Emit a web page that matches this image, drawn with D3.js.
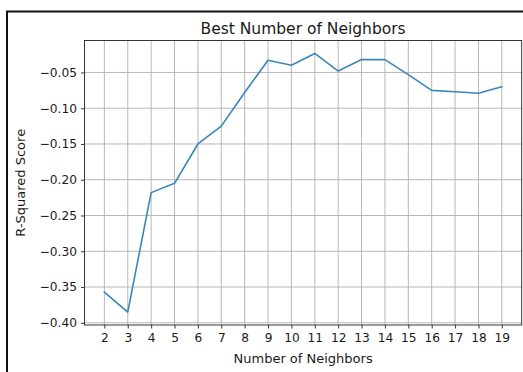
<!DOCTYPE html>
<html>
<head>
<meta charset="utf-8">
<script src="https://cdn.jsdelivr.net/npm/d3@7"></script>
<style>
  html, body { margin: 0; padding: 0; background: #fff; }
  svg { display: block; }
  text { font-family: "DejaVu Sans", sans-serif; fill: #1a1a1a; }
</style>
</head>
<body>
<svg id="chart" width="523" height="372"></svg>
<script>
const neighbors = [2, 3, 4, 5, 6, 7, 8, 9, 10, 11, 12, 13, 14, 15, 16, 17, 18, 19];
const r2Scores = [-0.357, -0.385, -0.218, -0.205, -0.150, -0.125, -0.078, -0.033, -0.040, -0.0234,
                  -0.048, -0.032, -0.032, -0.053, -0.075, -0.077, -0.079, -0.070];
const yTickValues = [-0.40, -0.35, -0.30, -0.25, -0.20, -0.15, -0.10, -0.05];
const titleText = "Best Number of Neighbors";
const xLabelText = "Number of Neighbors";
const yLabelText = "R-Squared Score";

const svg = d3.select("#chart");
const W = 523, H = 372;
const plot = { left: 84.5, right: 521.7, top: 40.5, bottom: 325 };

svg.append("rect").attr("width", W).attr("height", H).attr("fill", "#fff");

// outer frame (screenshot border)
svg.append("path")
  .attr("d", `M7,${H + 2} V11.5 H${W + 2}`)
  .attr("fill", "none").attr("stroke", "#111").attr("stroke-width", 2);

// matplotlib-like 5% margins
const xMin = d3.min(neighbors), xMax = d3.max(neighbors);
const xm = (xMax - xMin) * 0.05;
const x = d3.scaleLinear().domain([xMin - xm, xMax + xm]).range([plot.left, plot.right]);
const yMin = d3.min(r2Scores), yMax = d3.max(r2Scores);
const ym = (yMax - yMin) * 0.05;
const y = d3.scaleLinear().domain([yMin - ym, yMax + ym]).range([plot.bottom, plot.top]);

const fmt = v => d3.format(".2f")(v).replace("-", "\u2212");

// grid
const grid = svg.append("g");
grid.selectAll("line.gx").data(neighbors).enter().append("line")
  .attr("x1", d => x(d)).attr("x2", d => x(d))
  .attr("y1", plot.top).attr("y2", plot.bottom)
  .attr("stroke", "#b0b0b0").attr("stroke-width", 0.9);
grid.selectAll("line.gy").data(yTickValues).enter().append("line")
  .attr("y1", d => y(d)).attr("y2", d => y(d))
  .attr("x1", plot.left).attr("x2", plot.right)
  .attr("stroke", "#b0b0b0").attr("stroke-width", 0.9);

// line
const line = d3.line().x((d, i) => x(neighbors[i])).y(d => y(d));
svg.append("path").datum(r2Scores)
  .attr("d", line)
  .attr("fill", "none")
  .attr("stroke", "#3a86b8")
  .attr("stroke-width", 1.6)
  .attr("stroke-linejoin", "round")
  .attr("stroke-linecap", "square");

// axes
const xAxis = d3.axisBottom(x).tickValues(neighbors).tickSize(3.5).tickPadding(4.5).tickFormat(d3.format("d"));
const yAxis = d3.axisLeft(y).tickValues(yTickValues).tickSize(3.5).tickPadding(4).tickFormat(fmt);

const gx = svg.append("g").attr("transform", `translate(0,${plot.bottom})`).call(xAxis);
const gy = svg.append("g").attr("transform", `translate(${plot.left},0)`).call(yAxis);
[gx, gy].forEach(g => {
  g.select(".domain").remove();
  g.selectAll(".tick line").attr("stroke", "#222").attr("stroke-width", 0.9);
  g.selectAll(".tick text").style("font-family", "'DejaVu Sans', sans-serif")
    .style("font-size", "12.2px").attr("fill", "#1a1a1a");
});

// spines
svg.append("rect")
  .attr("x", plot.left).attr("y", plot.top)
  .attr("width", plot.right - plot.left).attr("height", plot.bottom - plot.top)
  .attr("fill", "none").attr("stroke", "#222").attr("stroke-width", 0.9);

// title & labels
const cx = (plot.left + plot.right) / 2;
svg.append("text").attr("x", cx).attr("y", 33.5)
  .attr("text-anchor", "middle").style("font-size", "15.5px").text(titleText);
svg.append("text").attr("x", cx).attr("y", 363)
  .attr("text-anchor", "middle").style("font-size", "13px").text(xLabelText);
svg.append("text")
  .attr("transform", `translate(24.5,${(plot.top + plot.bottom) / 2}) rotate(-90)`)
  .attr("text-anchor", "middle").style("font-size", "13px").text(yLabelText);
</script>
</body>
</html>
